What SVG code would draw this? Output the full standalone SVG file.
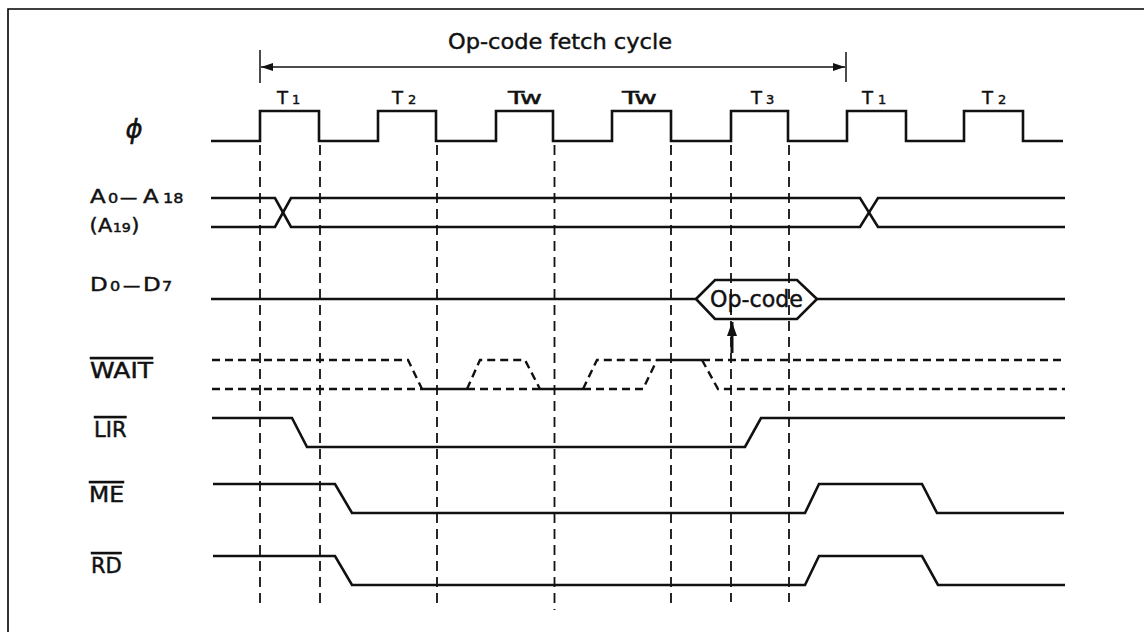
<svg xmlns="http://www.w3.org/2000/svg" width="1144" height="632" viewBox="0 0 1144 632">
<style>
  .frame{fill:none;stroke:#000;stroke-width:1.6}
  .wave{fill:none;stroke:#111;stroke-width:2.6;stroke-linejoin:miter}
  .wdash{fill:none;stroke:#111;stroke-width:2.4;stroke-dasharray:8 5}
  .vdash{fill:none;stroke:#111;stroke-width:1.8;stroke-dasharray:10 6}
  .thin{fill:none;stroke:#111;stroke-width:1.5}
  text{font-family:"DejaVu Sans","Liberation Sans",sans-serif;fill:#111;stroke:#111;stroke-width:0.45}
  .lbl{font-size:21px}
  .sub{font-size:14px}
  .tl{font-size:18px}
  .tsub{font-size:13px}
  .ov{text-decoration:overline}
</style>
<defs>
  <marker id="ah" viewBox="0 0 12 8" refX="12" refY="4" markerWidth="12" markerHeight="8" markerUnits="userSpaceOnUse" orient="auto-start-reverse">
    <path d="M0,0 L12,4 L0,8 Z" fill="#111"/>
  </marker>
  <marker id="ahb" viewBox="0 0 14 10" refX="14" refY="5" markerWidth="14" markerHeight="10" markerUnits="userSpaceOnUse" orient="auto">
    <path d="M0,0 L14,5 L0,10 Z" fill="#111"/>
  </marker>
</defs>
<rect width="1144" height="632" fill="#fff"/>
<path class="frame" d="M8,632 V9 H1144"/>

<g id="connectors">
  <line class="vdash" x1="260" y1="145" x2="260" y2="605"/>
  <line class="vdash" x1="320" y1="145" x2="320" y2="603"/>
  <line class="vdash" x1="437" y1="145" x2="437" y2="607"/>
  <line class="vdash" x1="554.5" y1="145" x2="554.5" y2="610"/>
  <line class="vdash" x1="671" y1="145" x2="671" y2="607"/>
  <line class="vdash" x1="731" y1="145" x2="731" y2="602"/>
  <line class="vdash" x1="789" y1="145" x2="789" y2="602"/>
  <line class="thin" x1="260" y1="50" x2="260" y2="83"/>
  <line class="thin" x1="846" y1="52" x2="846" y2="82"/>
  <line class="thin" x1="261" y1="67" x2="845" y2="67" marker-start="url(#ah)" marker-end="url(#ah)"/>
  <line x1="732" y1="353" x2="732" y2="322" stroke="#111" stroke-width="3" marker-end="url(#ahb)"/>
</g>

<g id="title">
  <text x="448" y="49" font-size="22" textLength="224" lengthAdjust="spacingAndGlyphs">Op-code fetch cycle</text>
</g>

<g id="tlabels">
  <text class="tl" x="277" y="104">T<tspan class="tsub" x="292">1</tspan></text>
  <text class="tl" x="392" y="104">T<tspan class="tsub" x="408">2</tspan></text>
  <text class="tl" x="508" y="104" textLength="34" lengthAdjust="spacingAndGlyphs">Tw</text>
  <text class="tl" x="622" y="104" textLength="35" lengthAdjust="spacingAndGlyphs">Tw</text>
  <text class="tl" x="751" y="104">T<tspan class="tsub" x="766">3</tspan></text>
  <text class="tl" x="862" y="104">T<tspan class="tsub" x="878">1</tspan></text>
  <text class="tl" x="982" y="104">T<tspan class="tsub" x="998">2</tspan></text>
</g>

<g id="sig-clock">
  <text x="134" y="138" font-family="Liberation Serif, serif" font-style="italic" font-size="26" text-anchor="middle">ϕ</text>
  <path class="wave" d="M211,141 H260 V111 H319 V141 H378 V111 H436 V141 H496 V111 H553 V141 H612 V111 H671 V141 H731 V111 H788 V141 H847 V111 H906 V141 H964 V111 H1023 V141 H1063"/>
</g>

<g id="sig-address">
  <g transform="translate(89,0) scale(1.15,1) translate(-89,0)">
    <text x="89.9" y="203" font-size="20">A<tspan class="sub" x="105.5">0</tspan><tspan x="116" font-size="15">—</tspan><tspan x="136">A</tspan><tspan class="sub" x="153.3">18</tspan></text>
  </g>
  <g transform="translate(89,0) scale(1.1,1) translate(-89,0)">
    <text x="89.5" y="232" font-size="19">(<tspan x="97.2">A</tspan><tspan x="110.6" font-size="13">19</tspan><tspan x="127.4">)</tspan></text>
  </g>
  <path class="wave" d="M211,198 H275 L291,227 H860 L878,198 H1065"/>
  <path class="wave" d="M211,227 H275 L291,198 H860 L878,227 H1065"/>
</g>

<g id="sig-data">
  <g transform="translate(89,0) scale(1.15,1) translate(-89,0)">
    <text x="89.9" y="291" font-size="20">D<tspan class="sub" x="107.3">0</tspan><tspan x="118.6" font-size="15">—</tspan><tspan x="136">D</tspan><tspan class="sub" x="152.5">7</tspan></text>
  </g>
  <path class="wave" d="M211,299 H696 M817,299 H1065"/>
  <polygon class="wave" fill="#fff" points="696,299 715,280 797,280 817,299 797,319 715,319"/>
  <text x="710" y="307" font-size="23" textLength="93" lengthAdjust="spacingAndGlyphs">Op-code</text>
</g>

<g id="sig-wait">
  <text class="lbl ov" x="90" y="378" textLength="63" lengthAdjust="spacingAndGlyphs">WAIT</text>
  <path class="wdash" d="M212,360 H408 L422,389"/>
  <path class="wdash" d="M212,389 H422"/>
  <path class="wave" d="M422,389 H467"/>
  <path class="wdash" d="M467,389 L480,360 H525 L540,389"/>
  <path class="wdash" d="M467,389 H540"/>
  <path class="wave" d="M540,389 H583"/>
  <path class="wdash" d="M583,389 L597,360 H657"/>
  <path class="wdash" d="M583,389 H643 L657,360"/>
  <path class="wave" d="M657,360 H702"/>
  <path class="wdash" d="M702,360 H1065"/>
  <path class="wdash" d="M702,360 L718,389 H1065"/>
</g>

<g id="sig-lir">
  <text class="lbl ov" x="94" y="437">LIR</text>
  <path class="wave" d="M212,418 H292 L307,447 H745 L761,418 H1065"/>
</g>

<g id="sig-me">
  <text class="lbl ov" x="89" y="502" textLength="35" lengthAdjust="spacingAndGlyphs">ME</text>
  <path class="wave" d="M213,484 H335 L352,513 H805 L819,484 H922 L937,513 H1064"/>
</g>

<g id="sig-rd">
  <text class="lbl ov" x="91" y="573">RD</text>
  <path class="wave" d="M213,556 H335 L352,585 H805 L819,556 H922 L938,585 H1065"/>
</g>
</svg>
